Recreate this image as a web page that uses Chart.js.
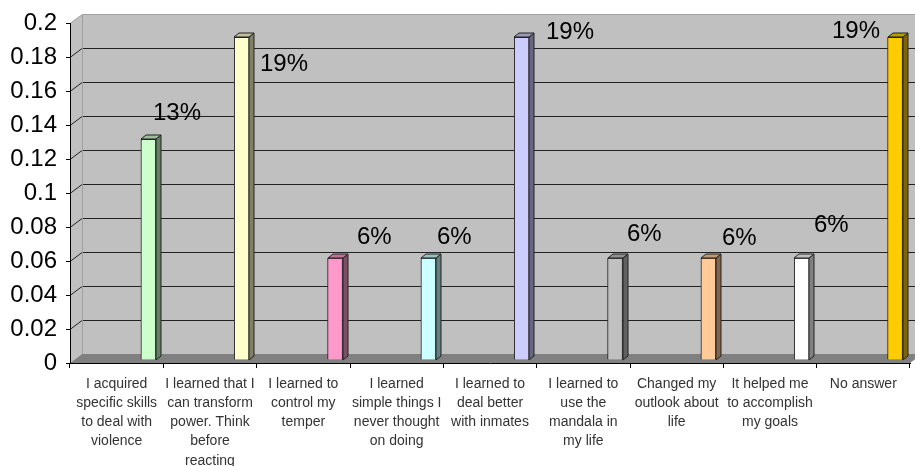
<!DOCTYPE html>
<html>
<head>
<meta charset="utf-8">
<title>Survey answers</title>
<script src="https://cdn.jsdelivr.net/npm/chart.js@4.4.1/dist/chart.umd.min.js"></script>
<style>
html, body { margin: 0; padding: 0; background: #fff; }
canvas { display: block; }
</style>
</head>
<body>
<canvas id="answers" width="915" height="466"></canvas>
<script>
"use strict";

var categories = [
    ["I acquired", "specific skills", "to deal with", "violence"],
    ["I learned that I", "can transform", "power. Think", "before", "reacting"],
    ["I learned to", "control my", "temper"],
    ["I learned", "simple things I", "never thought", "on doing"],
    ["I learned to", "deal better", "with inmates"],
    ["I learned to", "use the", "mandala in", "my life"],
    ["Changed my", "outlook about", "life"],
    ["It helped me", "to accomplish", "my goals"],
    ["No answer"]
];
var shares = [0.13, 0.19, 0.06, 0.06, 0.19, 0.06, 0.06, 0.06, 0.19];
var yTicks = [0, 0.02, 0.04, 0.06, 0.08, 0.1, 0.12, 0.14, 0.16, 0.18, 0.2];

var barColors = ['#ccffcc', '#ffffcc', '#ff99cc', '#ccffff', '#ccccff', '#c0c0c0', '#ffcc99', '#ffffff', '#ffcc00'];
// where each % label sits, relative to the top right corner of its bar
var labelNudge = [[-3, -26], [11, 27], [14, -21], [1, -21], [17, -5], [4, -24], [6, -20], [5, -33], [-71, -6]];

var WALL_DX = 12, WALL_DY = 9;   // depth of the back wall
var BAR_DX = 5, BAR_DY = 4;      // depth of a column
var BAR_LIFT = 3;                // columns stand a bit behind the front edge
var BAR_SHIFT = 0.84;            // column position inside its category

function shade(hex, f) {
    var n = parseInt(hex.slice(1), 16);
    var r = Math.round(((n >> 16) & 255) * f);
    var g = Math.round(((n >> 8) & 255) * f);
    var b = Math.round((n & 255) * f);
    return 'rgb(' + r + ',' + g + ',' + b + ')';
}

function poly(ctx, pts) {
    ctx.beginPath();
    ctx.moveTo(pts[0][0], pts[0][1]);
    for (var i = 1; i < pts.length; i++) ctx.lineTo(pts[i][0], pts[i][1]);
    ctx.closePath();
}

/* walls, floor and the grid on the back wall */
var wallPlugin = {
    id: 'wall3d',
    beforeDraw: function (chart) {
        var ctx = chart.ctx, a = chart.chartArea, y = chart.scales.y;
        var top = y.getPixelForValue(0.2), bottom = y.getPixelForValue(0);
        var l = a.left, r = a.right;
        ctx.save();
        ctx.fillStyle = '#c0c0c0';
        poly(ctx, [[l, top], [l + WALL_DX, top - WALL_DY], [l + WALL_DX, bottom - WALL_DY], [l, bottom]]);
        ctx.fill();
        ctx.fillRect(l + WALL_DX, top - WALL_DY, r - l, bottom - top);
        ctx.fillStyle = '#808080';
        poly(ctx, [[l, bottom], [l + WALL_DX, bottom - WALL_DY], [r + WALL_DX, bottom - WALL_DY], [r, bottom]]);
        ctx.fill();

        ctx.lineWidth = 1;
        ctx.strokeStyle = '#222';
        y.ticks.forEach(function (t) {
            if (t.value <= 0 || t.value >= 0.2) return;
            var py = Math.round(y.getPixelForValue(t.value)) + 0.5;
            ctx.beginPath();
            ctx.moveTo(l, py);
            ctx.lineTo(l + WALL_DX, py - WALL_DY);
            ctx.lineTo(r + WALL_DX, py - WALL_DY);
            ctx.stroke();
        });

        ctx.strokeStyle = '#a0a0a0';
        var ty = Math.round(top) + 0.5;
        ctx.beginPath();
        ctx.moveTo(l, ty);
        ctx.lineTo(l + WALL_DX + 0.5, ty - WALL_DY);
        ctx.lineTo(r + WALL_DX, ty - WALL_DY);
        ctx.moveTo(l + WALL_DX + 0.5, ty - WALL_DY);
        ctx.lineTo(l + WALL_DX + 0.5, Math.round(bottom) - WALL_DY);
        ctx.stroke();
        ctx.restore();
    },
    beforeDatasetsDraw: function (chart) {
        chart.ctx.save();
        chart.ctx.translate(0, -BAR_LIFT);
    },
    afterDatasetsDraw: function (chart) {
        var ctx = chart.ctx;
        var meta = chart.getDatasetMeta(0);
        ctx.lineWidth = 1;
        ctx.strokeStyle = '#222';
        meta.data.forEach(function (bar, i) {
            var p = bar.getProps(['x', 'y', 'base', 'width'], true);
            var x0 = Math.round(p.x - p.width / 2), x1 = Math.round(p.x + p.width / 2);
            var yt = Math.round(p.y), yb = Math.round(p.base);
            // right side
            ctx.fillStyle = shade(barColors[i], 0.5);
            poly(ctx, [[x1, yt], [x1 + BAR_DX, yt - BAR_DY], [x1 + BAR_DX, yb - BAR_DY], [x1, yb]]);
            ctx.fill();
            ctx.stroke();
            // top
            ctx.fillStyle = shade(barColors[i], 0.75);
            poly(ctx, [[x0, yt], [x0 + BAR_DX, yt - BAR_DY], [x1 + BAR_DX, yt - BAR_DY], [x1, yt]]);
            ctx.fill();
            ctx.stroke();
            // value label
            ctx.fillStyle = '#000';
            ctx.font = "24px 'Liberation Sans', Arial, sans-serif";
            ctx.textAlign = 'left';
            ctx.textBaseline = 'middle';
            ctx.fillText(Math.round(shares[i] * 100) + '%', x1 + labelNudge[i][0], yt + labelNudge[i][1]);
        });
        ctx.restore();
    }
};

Chart.defaults.font.family = "'Liberation Sans', Arial, sans-serif";

var ctx = document.getElementById('answers').getContext('2d');
var answersChart = new Chart(ctx, {
    type: 'bar',
    data: {
        labels: categories,
        datasets: [{
            xAxisID: 'xb',
            data: shares.map(function (v, i) { return { x: i + BAR_SHIFT, y: v }; }),
            backgroundColor: barColors,
            borderColor: '#222',
            borderWidth: 1,
            barThickness: 15
        }]
    },
    options: {
        responsive: false,
        animation: false,
        layout: { padding: { top: 18, right: 5, left: 0, bottom: 0 } },
        plugins: {
            legend: { display: false },
            tooltip: { enabled: false }
        },
        scales: {
            x: {
                type: 'category',
                position: 'bottom',
                offset: true,
                grid: { offset: true, drawOnChartArea: false, tickLength: 5, color: '#000' },
                border: { display: true, color: '#000' },
                ticks: {
                    maxRotation: 0,
                    autoSkip: false,
                    padding: 7,
                    color: '#333',
                    font: { size: 14, lineHeight: 1.36 }
                },
                afterFit: function (s) { s.height = 103; }
            },
            xb: { type: 'linear', display: false, offset: false, min: 0, max: categories.length },
            y: {
                min: 0,
                max: 0.2,
                grid: { drawOnChartArea: false, tickLength: 4, color: '#000' },
                border: { display: true, color: '#000' },
                ticks: {
                    padding: 9,
                    color: '#000',
                    font: { size: 24 },
                    callback: function (v) { return String(+v.toFixed(2)); }
                },
                afterBuildTicks: function (s) {
                    s.ticks = yTicks.map(function (v) { return { value: v }; });
                },
                afterFit: function (s) { s.width = 70; }
            }
        }
    },
    plugins: [wallPlugin]
});
</script>
</body>
</html>
